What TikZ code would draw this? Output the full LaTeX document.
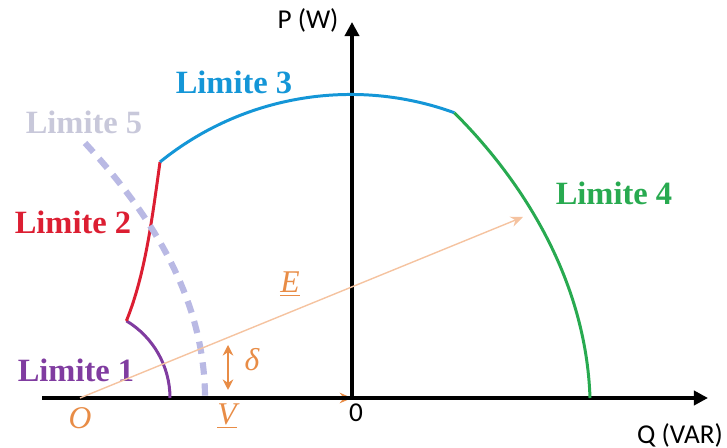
\documentclass[tikz,border=0pt]{standalone}
\usepackage{fontspec}
\setmainfont{Liberation Serif}
\newfontfamily\axisfont{Carlito}
\usetikzlibrary{arrows.meta,positioning}
\definecolor{limA}{RGB}{128,60,160}
\definecolor{limB}{RGB}{220,30,50}
\definecolor{limC}{RGB}{20,150,215}
\definecolor{limD}{RGB}{40,170,80}
\definecolor{limE}{RGB}{185,185,228}
\definecolor{limEtxt}{RGB}{200,200,218}
\definecolor{vec}{RGB}{232,140,70}
\definecolor{vecl}{RGB}{245,195,160}

\begin{document}
\begin{tikzpicture}[x=0.02cm,y=0.02cm,
  axis/.style={line width=2pt,-{Triangle[length=8pt,width=8pt]}},
  lim/.style={line width=1.7pt},
  limtxt/.style={font=\fontsize{18.5}{20}\selectfont\bfseries},
  axtxt/.style={font=\axisfont\fontsize{15.5}{17}\selectfont},
  vtxt/.style={font=\fontsize{18}{20}\selectfont\itshape,text=vec},
  arr/.style={-{Stealth[length=7pt,width=6pt]},vec}
]
\useasboundingbox (0,0) rectangle (727,448);
\coordinate (left) at (42,50);
\coordinate (orig) at (352,50);
\coordinate (qend) at (708,50);
\coordinate (pend) at (352,426);
\coordinate (O) at (80,50);
\coordinate (Etip) at (523,231);
\coordinate (dtop) at (228,103);
\coordinate (dbot) at (228,58);
\coordinate (k12) at (126.4,127.1);
\coordinate (k23) at (160,286);
\coordinate (k34) at (454.3,335.2);
\coordinate (k4) at (590,50);
\coordinate (k5a) at (85,305);
\coordinate (k5b) at (205,50);
% V under the axis
\draw[arr,line width=1pt] (O) -- (orig);
% axes
\draw[axis] (left) -- (qend);
\draw[axis] (orig) -- (pend);
\node[axtxt] (plab) at (308,428) {P (W)};
\node[axtxt] (qlab) at (680,13) {Q (VAR)};
\node[axtxt] (zero) at (356,35) {0};
% limits
\draw[lim,limA] (O) ++(90,0) arc[start angle=0,end angle=59,radius=90];
\draw[lim,limB] (k12) .. controls (145,173) and (152,228) .. (k23);
\draw[lim,limC] (k23) arc[start angle=129,end angle=70,radius=303];
\draw[lim,limD] (k34) .. controls (518,272) and (586,172) .. (k4);
\draw[line width=3.5pt,limE,dash pattern=on 7pt off 5pt] (k5a) .. controls (150,235) and (205,150) .. (k5b);
\node[limtxt,text=limA] (l1) at (76,78) {Limite 1};
\node[limtxt,text=limB] (l2) at (73,226) {Limite 2};
\node[limtxt,text=limC] (l3) at (234,366) {Limite 3};
\node[limtxt,text=limD] (l4) at (614,255) {Limite 4};
\node[limtxt,text=limEtxt] (l5) at (84,326) {Limite 5};
% vectors
\draw[arr,vecl,line width=0.8pt] (O) -- (Etip);
\draw[vec,line width=1.2pt,{Stealth[length=6pt,width=6pt]}-{Stealth[length=6pt,width=6pt]}] (dtop) -- (dbot);
\node[vtxt] (olab) at (80,30) {O};
\node[vtxt] (vlab) at (227,32) {\underline{V}};
\node[vtxt] (elab) at (290,164) {\underline{E}};
\node[vtxt] (dlab) at (252,88) {δ};
\end{tikzpicture}
\end{document}
